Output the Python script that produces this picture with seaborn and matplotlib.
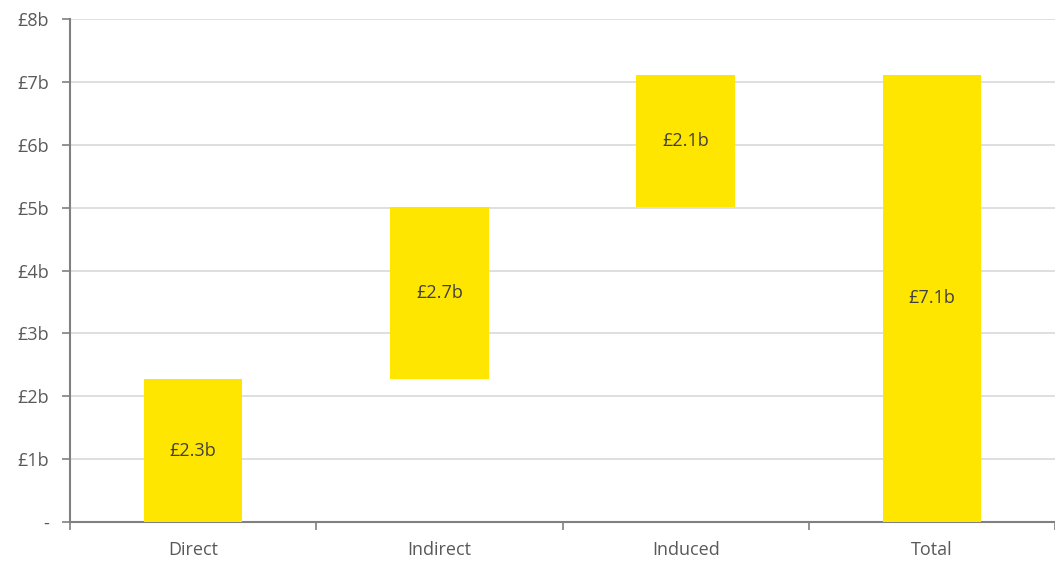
import matplotlib
matplotlib.use("Agg")
import matplotlib.pyplot as plt
import seaborn as sns
import numpy as np
from matplotlib.ticker import FixedLocator

categories = ["Direct", "Indirect", "Induced", "Total"]
steps = [2.27, 2.74, 2.10]
total = 7.11
labels = ["£2.3b", "£2.7b", "£2.1b", "£7.1b"]
ytick_labels = ["-", "£1b", "£2b", "£3b", "£4b", "£5b", "£6b", "£7b", "£8b"]

heights = steps + [total]
bottoms = list(np.concatenate([[0], np.cumsum(steps)[:-1]])) + [0]

sns.set_theme(style="white")
plt.rcParams['font.family'] = ['Open Sans', 'DejaVu Sans']

fig = plt.figure(figsize=(10.55, 5.62), dpi=100)
ax = fig.add_axes([70/1055, 40/562, 985/1055, 503/562])

sns.barplot(x=categories, y=heights, color="#FFE600", saturation=1, width=0.4,
            linewidth=0, edgecolor="none", ax=ax, zorder=3)
for p, b in zip(ax.patches, bottoms):
    p.set_y(b)

for i, (h, b, lab) in enumerate(zip(heights, bottoms, labels)):
    ax.text(i, b + h / 2, lab, ha="center", va="center", fontsize=13, color="#404040", zorder=4)

ax.set_xlim(-0.5, 3.5)
ax.set_ylim(0, 8)
ax.set_yticks(range(9))
ax.set_yticklabels(ytick_labels)
ax.yaxis.grid(True, color="#d9d9d9", linewidth=1.2, zorder=0)
ax.set_axisbelow(True)

ax.xaxis.set_minor_locator(FixedLocator([-0.5, 0.5, 1.5, 2.5, 3.5]))
ax.tick_params(axis="x", which="major", length=0, pad=14, labelsize=13, labelcolor="#595959")
ax.tick_params(axis="x", which="minor", length=6, width=1.2, color="#808080", direction="out", bottom=True)
ax.tick_params(axis="y", length=6, width=1.2, color="#808080", direction="out", labelsize=13,
               labelcolor="#595959", pad=9, left=True)

for s in ["top", "right"]:
    ax.spines[s].set_visible(False)
for s in ["left", "bottom"]:
    ax.spines[s].set_color("#808080")
    ax.spines[s].set_linewidth(1.5)
ax.set_xlabel("")
ax.set_ylabel("")

fig.savefig("out.png", dpi=100)
